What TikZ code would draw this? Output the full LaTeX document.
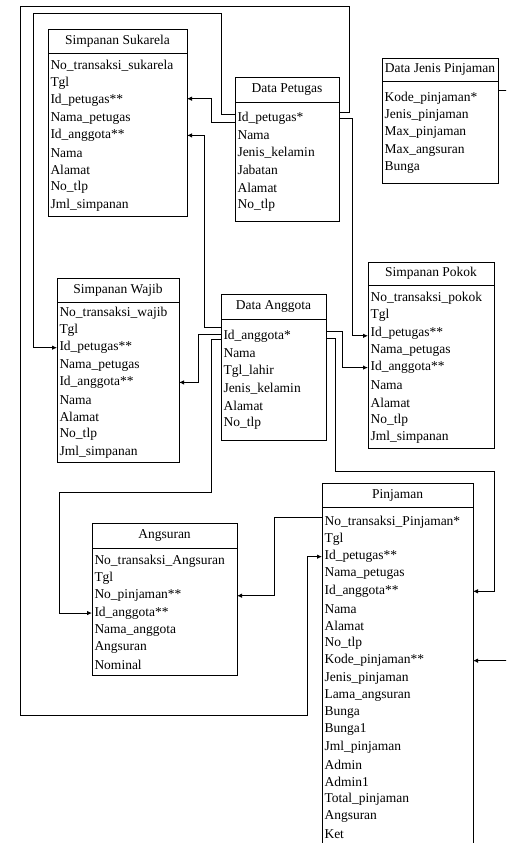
\documentclass[tikz,border=0pt]{standalone}
\usepackage{fontspec}
\setmainfont{Liberation Serif}
\usepackage{tikz}
\usetikzlibrary{positioning,calc,arrows.meta}

\tikzset{
  head/.style={draw, anchor=north west, inner sep=0pt, outer sep=0pt, align=center},
  body/.style={draw, inner sep=0pt, outer sep=0pt},
  field/.style={anchor=west, inner xsep=2.5pt, inner ysep=0pt, outer sep=0pt, align=left},
  link/.style={-{Latex[length=5pt,width=4.5pt]}},
}

\begin{document}
\begin{tikzpicture}[x=1pt, y=-1pt, line width=0.9pt, font=\fontsize{13.5}{16}\selectfont]
\useasboundingbox[fill=white] (0,0) rectangle (506,843);
\clip (0,0) rectangle (506,843);

% Simpanan Sukarela
\node[head, minimum width=139pt, minimum height=24pt] (suk) at (48,29) {Simpanan Sukarela};
\node[body, below=0pt of suk, minimum width=139pt, minimum height=163pt] (sukb) {};
\foreach \t [count=\i] in {No\_transaksi\_sukarela, Tgl, Id\_petugas**, Nama\_petugas, Id\_anggota**, Nama, Alamat, No\_tlp, Jml\_simpanan}
  \node[field, text width=134pt] (suk\i) at ($(sukb.north west)+(0,{13+17.35*(\i-1)})$) {\t};

% Data Petugas
\node[head, minimum width=104pt, minimum height=25pt] (pet) at (235,77) {Data Petugas};
\node[body, below=0pt of pet, minimum width=104pt, minimum height=119pt] (petb) {};
\foreach \t [count=\i] in {Id\_petugas*, Nama, Jenis\_kelamin, Jabatan, Alamat, No\_tlp}
  \node[field, text width=99pt] (pet\i) at ($(petb.north west)+(0,{16+17.4*(\i-1)})$) {\t};

% Data Jenis Pinjaman
\node[head, minimum width=116pt, minimum height=23pt] (jen) at (382,58) {Data Jenis Pinjaman};
\node[body, below=0pt of jen, minimum width=116pt, minimum height=102pt] (jenb) {};
\foreach \t [count=\i] in {Kode\_pinjaman*, Jenis\_pinjaman, Max\_pinjaman, Max\_angsuran, Bunga}
  \node[field, text width=111pt] (jen\i) at ($(jenb.north west)+(0,{17+17.4*(\i-1)})$) {\t};

% Simpanan Pokok
\node[head, minimum width=126pt, minimum height=23pt] (pok) at (368,262) {Simpanan Pokok};
\node[body, below=0pt of pok, minimum width=126pt, minimum height=163pt] (pokb) {};
\foreach \t [count=\i] in {No\_transaksi\_pokok, Tgl, Id\_petugas**, Nama\_petugas, Id\_anggota**, Nama, Alamat, No\_tlp, Jml\_simpanan}
  \node[field, text width=121pt] (pok\i) at ($(pokb.north west)+(0,{13+17.4*(\i-1)})$) {\t};

% Data Anggota
\node[head, minimum width=105pt, minimum height=25pt] (ang) at (221,294) {Data Anggota};
\node[body, below=0pt of ang, minimum width=105pt, minimum height=121pt] (angb) {};
\foreach \t [count=\i] in {Id\_anggota*, Nama, Tgl\_lahir, Jenis\_kelamin, Alamat, No\_tlp}
  \node[field, text width=100pt] (ang\i) at ($(angb.north west)+(0,{17+17.4*(\i-1)})$) {\t};

% Simpanan Wajib
\node[head, minimum width=122pt, minimum height=24pt] (waj) at (57,278) {Simpanan Wajib};
\node[body, below=0pt of waj, minimum width=122pt, minimum height=160pt] (wajb) {};
\foreach \t [count=\i] in {No\_transaksi\_wajib, Tgl, Id\_petugas**, Nama\_petugas, Id\_anggota**, Nama, Alamat, No\_tlp, Jml\_simpanan}
  \node[field, text width=117pt] (waj\i) at ($(wajb.north west)+(0,{11+17.35*(\i-1)})$) {\t};

% Angsuran
\node[head, minimum width=145pt, minimum height=25pt] (angs) at (92,523) {Angsuran};
\node[body, below=0pt of angs, minimum width=145pt, minimum height=127pt] (angsb) {};
\foreach \t [count=\i] in {No\_transaksi\_Angsuran, Tgl, No\_pinjaman**, Id\_anggota**, Nama\_anggota, Angsuran, Nominal}
  \node[field, text width=140pt] (angs\i) at ($(angsb.north west)+(0,{13+17.35*(\i-1)})$) {\t};

% Pinjaman
\node[head, minimum width=151pt, minimum height=24pt] (pin) at (322,483) {Pinjaman};
\node[body, below=0pt of pin, minimum width=151pt, minimum height=360pt] (pinb) {};
\foreach \t [count=\i] in {No\_transaksi\_Pinjaman*, Tgl, Id\_petugas**, Nama\_petugas, Id\_anggota**, Nama, Alamat, No\_tlp, Kode\_pinjaman**, Jenis\_pinjaman, Lama\_angsuran, Bunga, Bunga1, Jml\_pinjaman, Admin, Admin1, Total\_pinjaman, Angsuran, Ket}
  \node[field, text width=146pt] (pin\i) at ($(pinb.north west)+(0,{15+17.33*(\i-1)})$) {\t};

% relasi
\draw[link] ([yshift=6pt]pet1.east) -| (349,6) -| (20,715) -- (307,715) |- (pin3.west);
\draw[link] ([yshift=4pt]pet1.west) -| (221,13) -- (33,13) |- (waj3.west);
\draw[link] ([yshift=-4pt]pet1.west) -- ++(-24,0) |- ([yshift=2pt]suk3.east);
\draw[link] (pet1.east) -- ++(13,0) |- ([yshift=-3pt]pok3.west);
\draw[link] ([yshift=9pt]ang1.west) -- ++(-17,0) |- (suk5.east);
\draw[link] ([yshift=2pt]ang1.west) -- ++(-23,0) |- (waj5.east);
\draw[link] ([yshift=-3pt]ang1.west) -- ++(-10,0) |- (59,492) |- (angs4.west);
\draw[link] ([yshift=5pt]ang1.east) -- ++(16,0) |- (pok5.west);
\draw[link] ([yshift=-2pt]ang1.east) -- ++(9,0) |- (494,471) |- (pin5.east);
\draw[link] ([yshift=8pt]jen1.east) -- ++(14,0) |- (pin9.east);
\draw[link] ([yshift=5pt]pin1.west) -- ++(-48,0) |- (angs3.east);
\end{tikzpicture}
\end{document}
